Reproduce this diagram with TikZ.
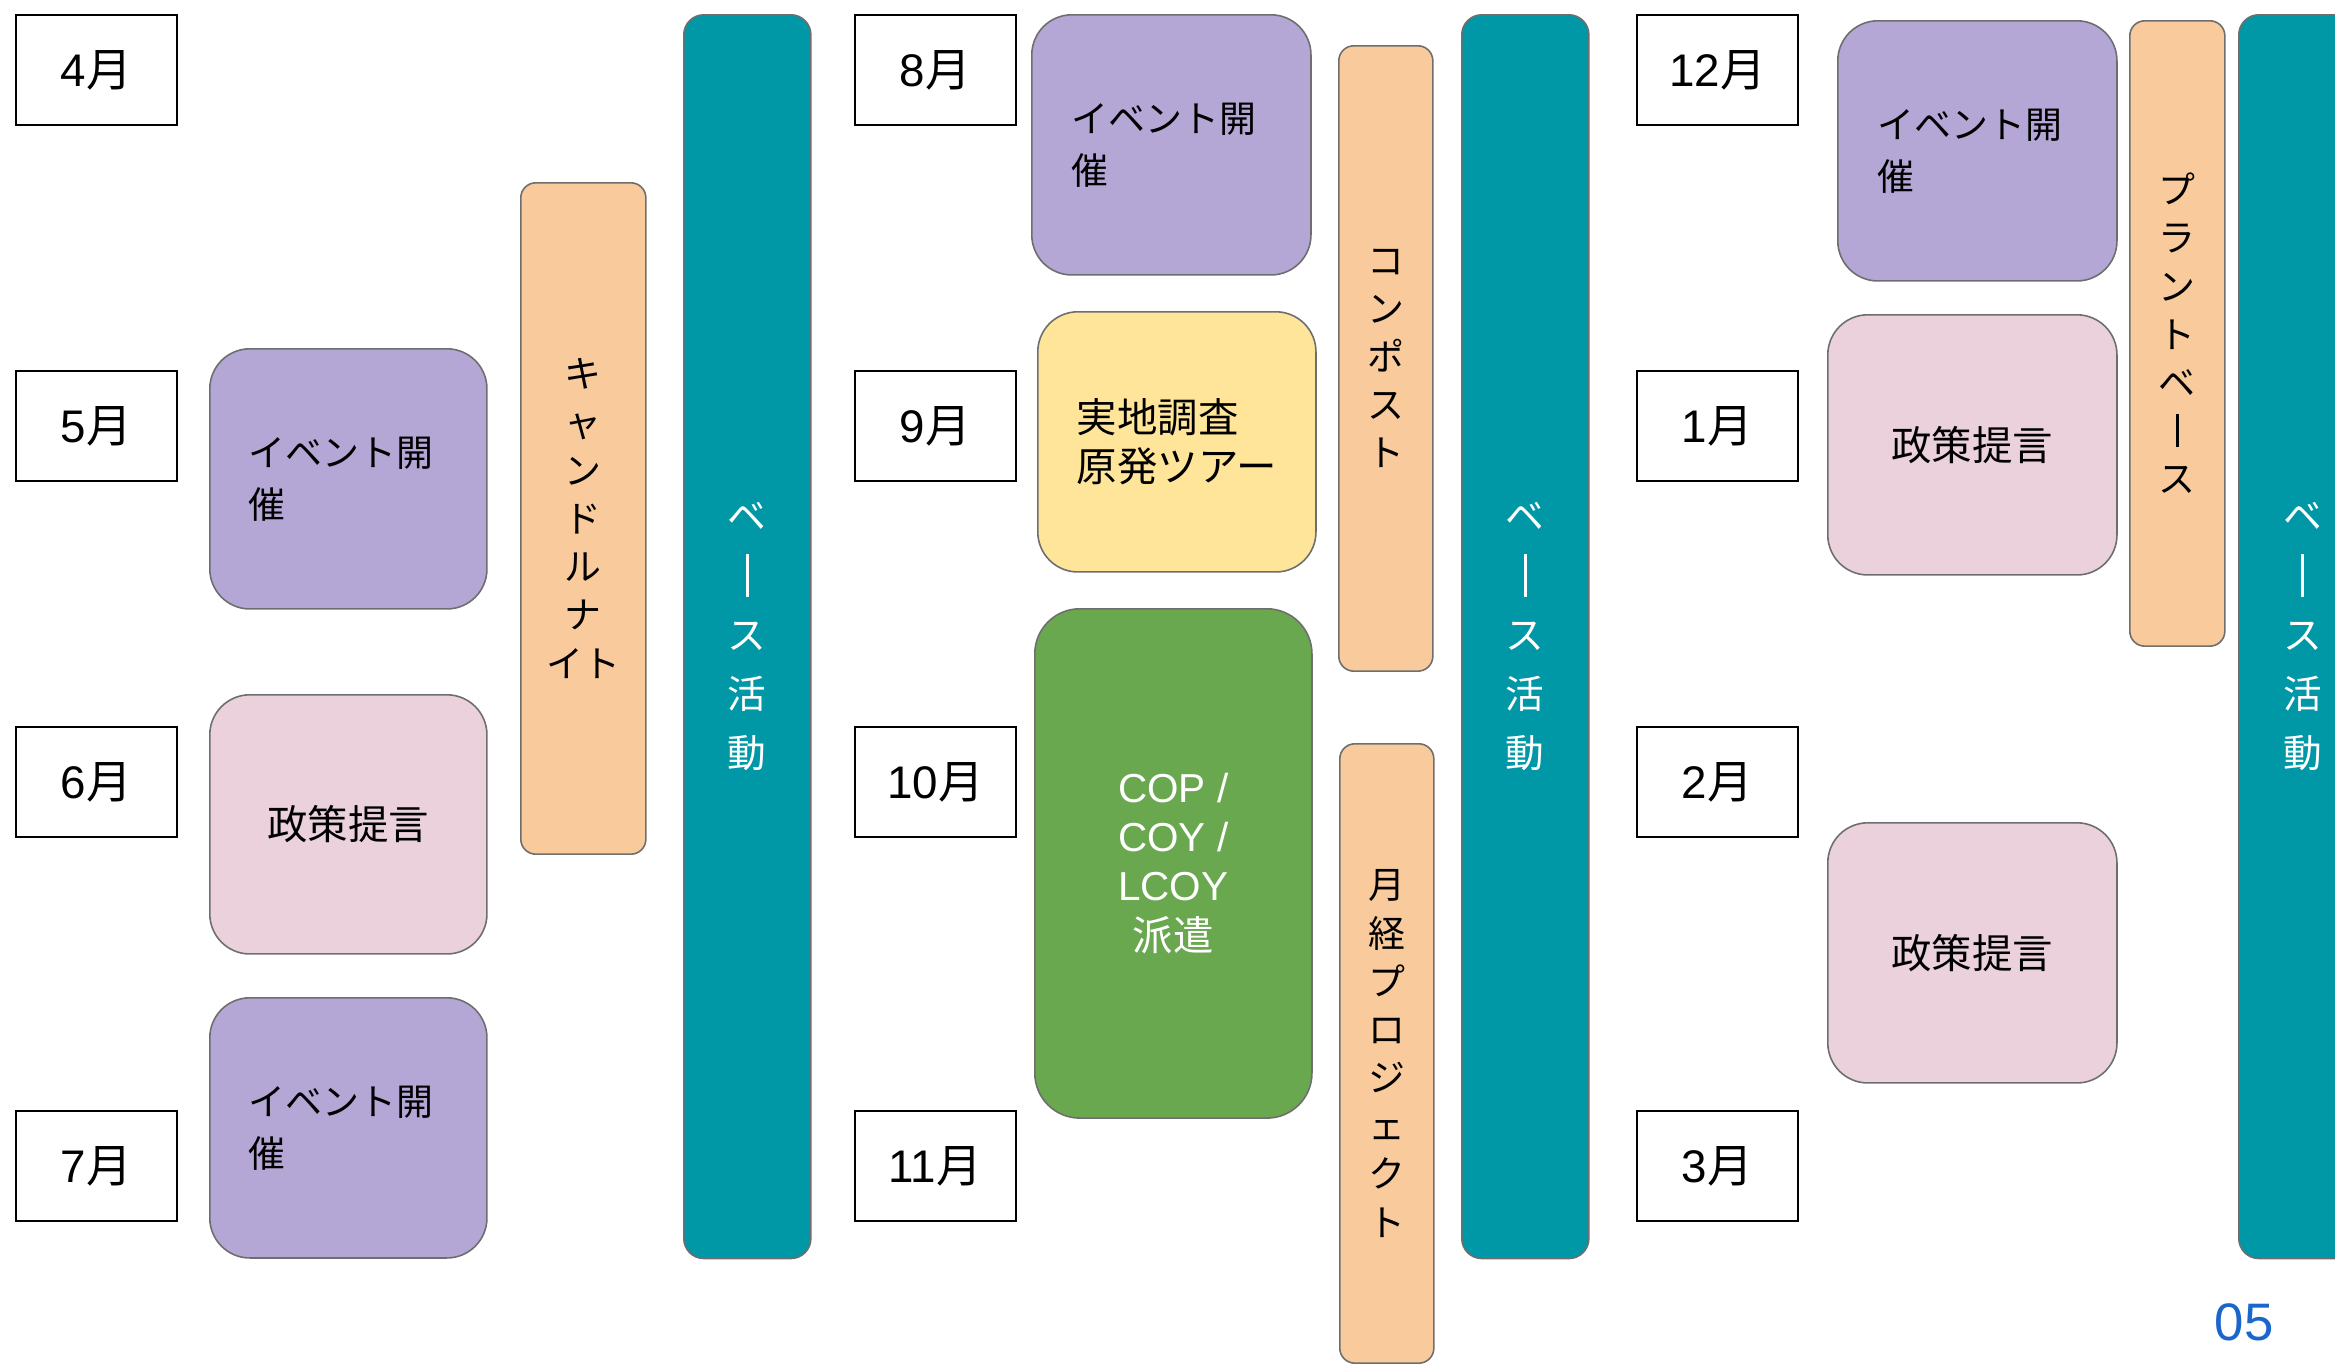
\documentclass[tikz,border=0pt]{standalone}
\usepackage{fontspec}
\setmainfont{Liberation Sans}
\newfontfamily\jp{Noto Sans CJK JP}
\usepackage{graphicx}
\usetikzlibrary{positioning}
\definecolor{eventpurple}{HTML}{B4A7D6}
\definecolor{policypink}{HTML}{EAD1DC}
\definecolor{tourYellow}{HTML}{FFE599}
\definecolor{copgreen}{HTML}{6AA84F}
\definecolor{projorange}{HTML}{F9CB9C}
\definecolor{baseteal}{HTML}{0097A7}
\definecolor{edgegray}{HTML}{6E6E6E}
\definecolor{pageblue}{HTML}{1A66CC}
\newcommand{\tatebo}[1][1.1em]{\rule[\dimexpr0.38em-#1/2\relax]{0.075em}{#1}} % long vowel mark standing upright
\tikzset{
tile/.style={draw=edgegray, line width=0.45pt, anchor=north west, inner sep=0pt}, % every coloured box
}

\begin{document}
\begin{tikzpicture}[x=0.01cm, y=-0.01cm,
month/.style={draw=black, line width=0.55pt, fill=white, anchor=north west, minimum width=1.61cm, minimum height=1.1cm, font=\fontsize{13}{15}\selectfont},
event/.style={tile, rounded corners=0.4cm, fill=eventpurple, minimum height=2.6cm, text width=2.0cm, align=left, font=\jp\fontsize{10.5}{14.8}\selectfont},
policy/.style={tile, rounded corners=0.4cm, fill=policypink, minimum height=2.6cm, font=\jp\fontsize{11.5}{14}\selectfont},
bar/.style={tile, rounded corners=0.15cm, fill=projorange, align=center, font=\jp\fontsize{10.5}{13.7}\selectfont},
base/.style={tile, rounded corners=0.2cm, fill=baseteal, text=white, align=center, minimum width=1.27cm, minimum height=12.43cm, font=\jp\fontsize{11}{16.8}\selectfont}]
\useasboundingbox (0,0) rectangle (2335,1366);
% months
\node[month] (m4) at (15,14) {4{\jp 月}};
\node[month] (m5) at (15,370) {5{\jp 月}};
\node[month] (m6) at (15,726) {6{\jp 月}};
\node[month] (m7) at (15,1110) {7{\jp 月}};
\node[month] (m8) at (854,14) {8{\jp 月}};
\node[month] (m9) at (854,370) {9{\jp 月}};
\node[month] (m10) at (854,726) {10{\jp 月}};
\node[month] (m11) at (854,1110) {11{\jp 月}};
\node[month] (m12) at (1636,14) {12{\jp 月}};
\node[month] (m1) at (1636,370) {1{\jp 月}};
\node[month] (m2) at (1636,726) {2{\jp 月}};
\node[month] (m3) at (1636,1110) {3{\jp 月}};

% first term
\node[event, minimum width=2.77cm] (ev1) at (209,348) {イベント開\\催};
\node[policy, minimum width=2.77cm, minimum height=2.59cm] (pol1) at (209,694) {政策提言};
\node[event, minimum width=2.77cm] (ev2) at (209,997) {イベント開\\催};
\node[bar, minimum width=1.25cm, minimum height=6.71cm] (candle) at (520,182) {キ\\ャ\\ン\\ド\\ル\\ナ\\イト};
\node[base] (base1) at (683,14) {ベ\\\tatebo\\ス\\活\\動};

% second term
\node[event, minimum width=2.79cm] (ev3) at (1031,14) {イベント開\\催};
\node[tile, rounded corners=0.4cm, fill=tourYellow, minimum width=2.78cm, minimum height=2.6cm, align=left, font=\jp\fontsize{11.5}{14}\selectfont] (tour) at (1037,311) {実地調査\\原発ツアー};
\node[tile, rounded corners=0.45cm, fill=copgreen, text=white, minimum width=2.77cm, minimum height=5.09cm, align=center, font=\fontsize{11.5}{14}\selectfont] (cop) at (1034,608) {COP /\\COY /\\LCOY\\{\jp 派遣}};
\node[bar, minimum width=0.94cm, minimum height=6.25cm] (compost) at (1338,45) {コ\\ン\\ポ\\ス\\ト};
\node[bar, minimum width=0.94cm, minimum height=6.19cm] (period) at (1339,743) {月\\経\\プ\\ロ\\ジ\\ェ\\ク\\ト};
\node[base] (base2) at (1461,14) {ベ\\\tatebo\\ス\\活\\動};

% third term
\node[event, minimum width=2.79cm] (ev4) at (1837,20) {イベント開\\催};
\node[policy, minimum width=2.89cm] (pol2) at (1827,314) {政策提言};
\node[policy, minimum width=2.89cm] (pol3) at (1827,822) {政策提言};
\node[bar, minimum width=0.95cm, minimum height=6.25cm] (plant) at (2129,20) {プ\\ラ\\ン\\ト\\ベ\\\tatebo[0.9em]\\ス};
\node[base] (base3) at (2238,14) {ベ\\\tatebo\\ス\\活\\動};

\node[text=pageblue, font=\fontsize{15}{18}\selectfont] (page) at (2244,1322) {05};
\end{tikzpicture}
\end{document}
